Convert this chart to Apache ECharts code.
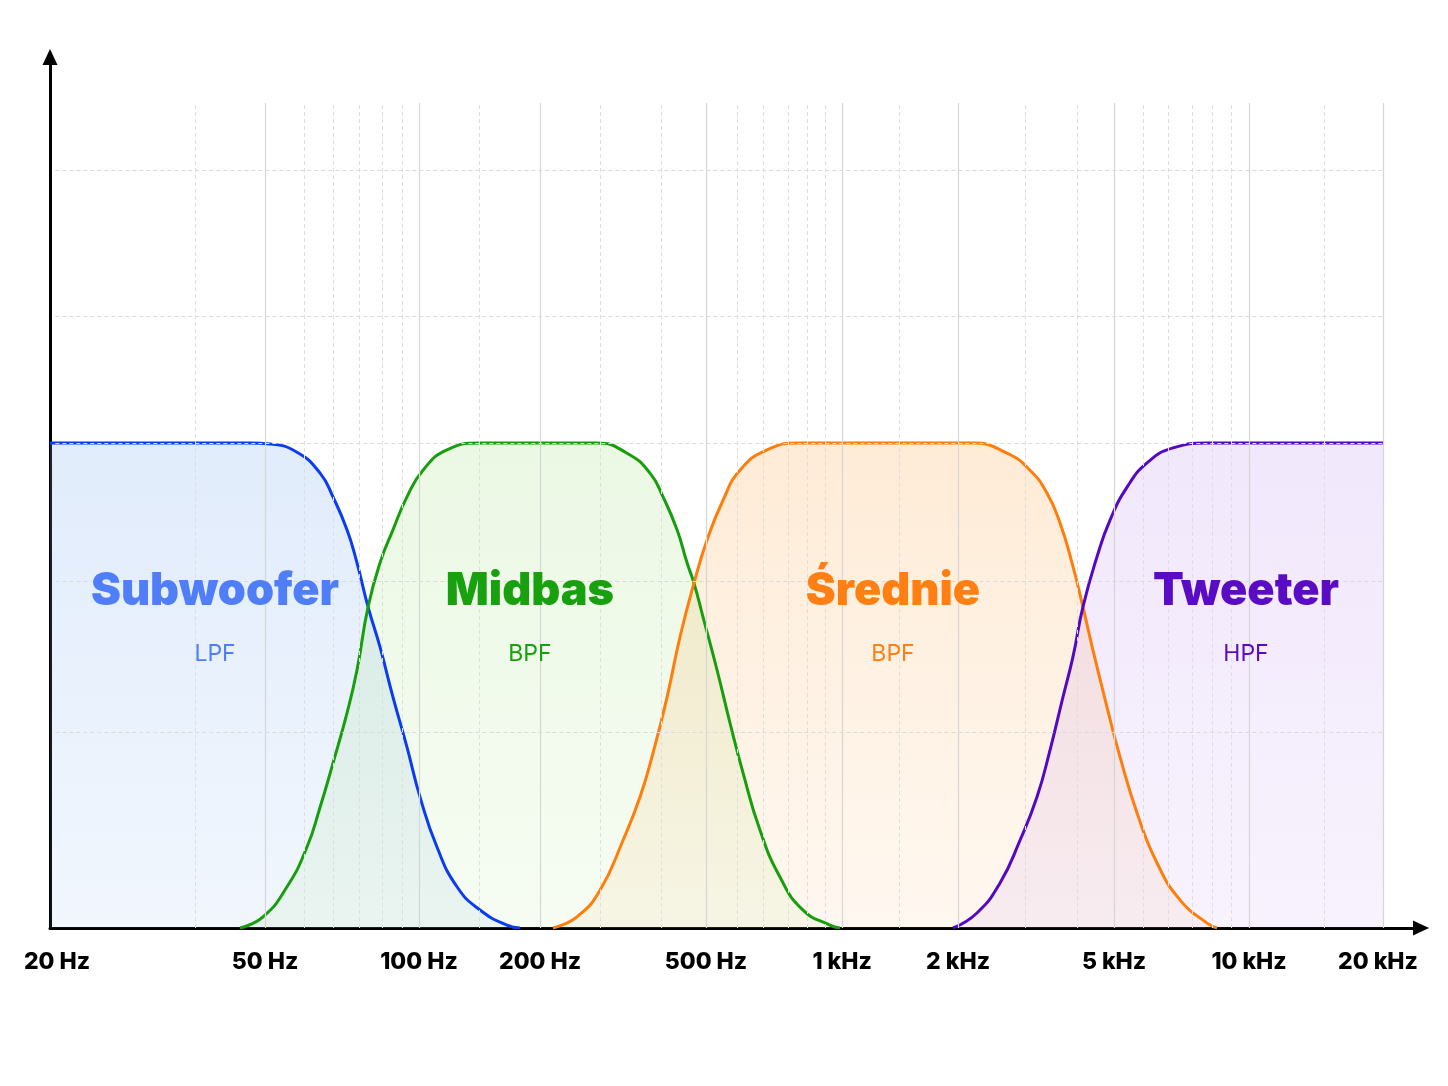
<!DOCTYPE html>
<html>
<head>
<meta charset="utf-8">
<script src="https://cdn.jsdelivr.net/npm/echarts@6/dist/echarts.min.js"></script>
<style>
  html, body { margin: 0; padding: 0; background: #fff; }
  #chart { width: 1448px; height: 1086px; }
</style>
</head>
<body>
<div id="chart"></div>
<script>
// x axis: position along the band (0 = 20 Hz, 100 = 20 kHz), the picture is not a strict log scale
const TICK_POS = [0, 16.13, 27.68, 36.76, 49.21, 59.42, 68.12, 79.82, 89.95, 100];
const TICK_LABELS = ["20 Hz", "50 Hz", "100 Hz", "200 Hz", "500 Hz", "1 kHz", "2 kHz", "5 kHz", "10 kHz", "20 kHz"];
const MINOR_POS = [10.88, 19.05, 21.23, 23.18, 24.91, 26.41, 32.18, 41.26, 45.84, 51.54, 53.49,
  55.36, 56.79, 58.14, 63.69, 73.14, 77.04, 82.0, 83.87, 85.67, 87.17, 88.6, 95.57];
// y axis: relative level, passband = 100
const LEVEL_LINES = [40.4, 71.5, 100, 126.2, 156.3];
const GRID_TOP_LEVEL = 170.1;

const subwoofer = [
  [0, 100], [13.5, 100], [15.0, 100], [16.5, 99.8], [18.53, 98.1], [20.26, 93.8], [21.23, 88.9],
  [22.28, 82.1], [23.03, 75.3], [23.86, 66.2], [24.76, 57.9], [25.73, 47.6], [26.78, 37.3],
  [27.76, 27.0], [29.03, 16.7], [30.53, 8.5], [32.26, 3.7], [34.28, 0.6], [35.26, 0]
];
const midbas = [
  [14.25, 0], [15.98, 2.3], [17.78, 8.5], [19.28, 16.7], [20.26, 24.9], [21.23, 34.0], [22.28, 44.3],
  [23.03, 53.2], [23.86, 66.2], [24.76, 75.3], [25.73, 82.1], [26.78, 88.9], [27.98, 94.4],
  [29.78, 98.6], [32.26, 100], [41.04, 100], [43.29, 97.9], [45.01, 93.8], [45.99, 88.9],
  [47.04, 82.1], [47.79, 75.3], [48.31, 71.1], [48.99, 64.1], [50.04, 53.2], [51.01, 42.3],
  [51.99, 32.0], [53.26, 20.2], [54.76, 10.5], [56.49, 3.7], [58.51, 0.6], [59.26, 0]
];
const srednie = [
  [37.73, 0], [39.53, 2.3], [41.26, 7.8], [42.99, 18.1], [44.26, 27.0], [45.24, 36.1], [46.29, 47.6],
  [47.26, 60.0], [48.31, 71.1], [49.29, 80.0], [50.49, 88.2], [51.76, 94.4], [53.79, 98.6],
  [56.26, 100], [69.24, 100], [71.79, 97.9], [73.52, 94.4], [74.79, 89.7], [75.77, 83.5],
  [76.67, 75.3], [77.49, 66.2], [78.24, 57.3], [79.29, 45.6], [80.27, 35.3], [81.55, 23.7],
  [83.05, 13.4], [84.77, 5.8], [86.8, 1.0], [87.55, 0]
];
const tweeter = [
  [67.74, 0], [69.54, 3.1], [71.27, 9.3], [72.77, 18.1], [74.04, 27.0], [75.02, 36.7], [75.99, 47.6],
  [76.74, 55.9], [77.49, 66.2], [78.54, 76.5], [79.52, 84.1], [80.8, 90.9], [82.3, 95.9],
  [84.25, 99.0], [86.8, 100], [100, 100]
];

const BAND_NAMES = ["Subwoofer", "Midbas", "Średnie", "Tweeter"];
const BAND_TYPES = ["LPF", "BPF", "BPF", "HPF"];

const chart = echarts.init(document.getElementById("chart"));

const FONT = "Inter, 'Noto Sans', sans-serif";

const styles = [
  { line: "#0a3cf2", text: "#4f7ef8", top: "rgba(120,170,240,0.32)", bottom: "rgba(120,170,240,0.14)" },
  { line: "#179e0d", text: "#18a00e", top: "rgba(150,220,110,0.27)", bottom: "rgba(150,220,110,0.12)" },
  { line: "#ff7d0a", text: "#ff7f12", top: "rgba(253,170,80,0.33)", bottom: "rgba(253,170,80,0.12)" },
  { line: "#5208c4", text: "#5a0cc4", top: "rgba(170,110,235,0.23)", bottom: "rgba(170,110,235,0.12)" },
];
const labelX = [12.38, 36.0, 63.24, 89.72];
const titleLevel = 69.3;
const subLevel = 56.5;

function bandSeries(data, i) {
  const s = styles[i];
  return {
    name: BAND_NAMES[i],
    type: "line",
    data: data,
    smooth: 0.5,
    symbol: "none",
    lineStyle: { color: s.line, width: 3 },
    areaStyle: {
      origin: "start",
      color: new echarts.graphic.LinearGradient(0, 0, 0, 1, [
        { offset: 0, color: s.top },
        { offset: 1, color: s.bottom },
      ]),
    },
    z: 3,
    markPoint: {
      symbol: "circle",
      symbolSize: 0,
      silent: true,
      z: 10,
      data: [
        {
          coord: [labelX[i], titleLevel],
          label: {
            show: true, position: "inside", formatter: BAND_NAMES[i],
            color: s.text, fontFamily: FONT, fontSize: 45, fontWeight: 900,
          },
        },
        {
          coord: [labelX[i], subLevel],
          label: {
            show: true, position: "inside", formatter: BAND_TYPES[i],
            color: s.text, fontFamily: FONT, fontSize: 23, fontWeight: 400,
          },
        },
      ],
    },
  };
}

const gridLines = [];
TICK_POS.slice(1).forEach((x) => {
  gridLines.push([
    { coord: [x, 0], lineStyle: { color: "#d6d6d6", width: 1.2, type: "solid" } },
    { coord: [x, GRID_TOP_LEVEL] },
  ]);
});
MINOR_POS.forEach((x) => {
  gridLines.push([
    { coord: [x, 0], lineStyle: { color: "#dedede", width: 1, type: [4, 3] } },
    { coord: [x, GRID_TOP_LEVEL] },
  ]);
});
LEVEL_LINES.forEach((y) => {
  gridLines.push([
    { coord: [0.4, y], lineStyle: { color: "#dadada", width: 1, type: [4, 3] } },
    { coord: [100, y] },
  ]);
});

const labelFont = { fontFamily: FONT, fontSize: 23, fontWeight: 800, color: "#000" };

chart.setOption({
  animation: false,
  backgroundColor: "#ffffff",
  grid: { left: 50, right: 27, top: 57, bottom: 158 },
  xAxis: {
    type: "value",
    min: 0,
    max: 102.85,
    axisLine: {
      show: true,
      lineStyle: { color: "#000", width: 3 },
      symbol: ["none", "triangle"],
      symbolSize: [15, 16],
    },
    axisTick: { show: false },
    splitLine: { show: false },
    axisLabel: {
      margin: 23,
      customValues: TICK_POS,
      ...labelFont,
      formatter: (v) => {
        const i = TICK_POS.indexOf(v);
        if (i === 0) return "{first|" + TICK_LABELS[i] + "}";
        if (i === TICK_POS.length - 1) return "{last|" + TICK_LABELS[i] + "}";
        return i >= 0 ? TICK_LABELS[i] : "";
      },
      rich: {
        first: { ...labelFont, padding: [0, 0, 0, 14] },
        last: { ...labelFont, padding: [0, 10, 0, 0] },
      },
    },
  },
  yAxis: {
    type: "value",
    min: 0,
    max: 179.6,
    axisLine: {
      show: true,
      lineStyle: { color: "#000", width: 3 },
      symbol: ["none", "triangle"],
      symbolSize: [15, 16],
    },
    axisTick: { show: false },
    axisLabel: { show: false },
    splitLine: { show: false },
  },
  series: [
    {
      type: "line",
      data: [],
      silent: true,
      z: 1,
      markLine: {
        silent: true,
        symbol: ["none", "none"],
        label: { show: false },
        data: gridLines,
      },
    },
    bandSeries(subwoofer, 0),
    bandSeries(midbas, 1),
    bandSeries(srednie, 2),
    bandSeries(tweeter, 3),
  ],
});
</script>
</body>
</html>
